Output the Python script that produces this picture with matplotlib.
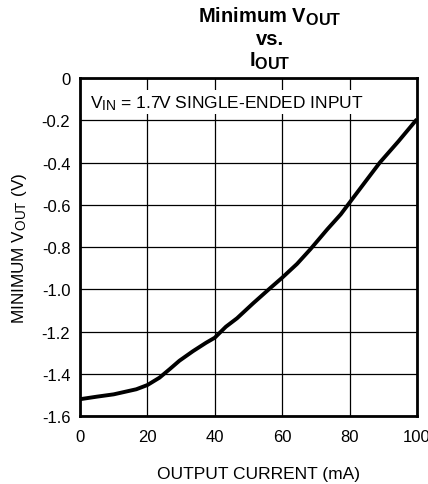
import numpy as np
import matplotlib.pyplot as plt
import matplotlib._mathtext as mt

# subscripts in the original are larger than matplotlib's default
mt.SHRINK_FACTOR = 0.8

plt.rcParams['font.family'] = ['Liberation Sans', 'DejaVu Sans']
plt.rcParams['mathtext.fontset'] = 'custom'
plt.rcParams['mathtext.rm'] = 'Liberation Sans'
plt.rcParams['mathtext.it'] = 'Liberation Sans'
plt.rcParams['mathtext.bf'] = 'Liberation Sans:bold'

# output current (mA) vs minimum Vout (V)
i_out = [0, 5, 10, 16.7, 20, 23.6, 26.6, 29.5, 33.5, 37.4, 40, 43.3, 46.6,
         51.4, 56.4, 60, 64.4, 68.4, 73.4, 77.4, 80, 85.2, 89, 94.5, 100]
v_min = [-1.52, -1.508, -1.497, -1.473, -1.453, -1.418, -1.378, -1.338, -1.293,
         -1.253, -1.229, -1.177, -1.137, -1.066, -0.995, -0.945, -0.88, -0.81,
         -0.716, -0.645, -0.59, -0.48, -0.40, -0.30, -0.195]

xticks = [0, 20, 40, 60, 80, 100]
yticks = [0, -0.2, -0.4, -0.6, -0.8, -1.0, -1.2, -1.4, -1.6]
ylabels = ['0', '-0.2', '-0.4', '-0.6', '-0.8', '-1.0', '-1.2', '-1.4', '-1.6']

fig = plt.figure(figsize=(4.28, 4.85), dpi=100)
ax = fig.add_axes([0.187, 0.140, 0.787, 0.697])

ax.plot(i_out, v_min, color='black', lw=2.8, zorder=3, solid_capstyle='butt',
        solid_joinstyle='round')

ax.set_xlim(0, 100)
ax.set_ylim(-1.6, 0)
ax.set_xticks(xticks)
ax.set_yticks(yticks)
ax.set_yticklabels(ylabels)
ax.tick_params(length=0, labelsize=12)
ax.tick_params(axis='x', pad=9)
ax.tick_params(axis='y', pad=7)
ax.set_axisbelow(True)
ax.grid(True, color='black', lw=0.9)
for s in ax.spines.values():
    s.set_linewidth(2)

# white band behind the annotation
ax.axhspan(-0.171, -0.057, color='white', zorder=1, lw=0)
ax.text(3, -0.115, r'V$_{\mathrm{IN}}$ = 1.7V SINGLE-ENDED INPUT', fontsize=12.5,
        va='center', ha='left', zorder=2)

ax.set_xlabel('OUTPUT CURRENT (mA)', fontsize=12.5, labelpad=16, x=0.531)
ax.set_ylabel(r'MINIMUM V$_{\mathrm{OUT}}$ (V)', fontsize=12.3, labelpad=9)

tx = 0.630
fig.text(tx, 0.9526, r'Minimum V$_{\mathbf{OUT}}$', fontsize=14.5, fontweight='bold', ha='center', va='baseline')
fig.text(tx, 0.9072, 'vs.', fontsize=14.5, fontweight='bold', ha='center', va='baseline')
fig.text(tx, 0.8619, r'I$_{\mathbf{OUT}}$', fontsize=14.5, fontweight='bold', ha='center', va='baseline')

plt.savefig('out.png', dpi=100)
